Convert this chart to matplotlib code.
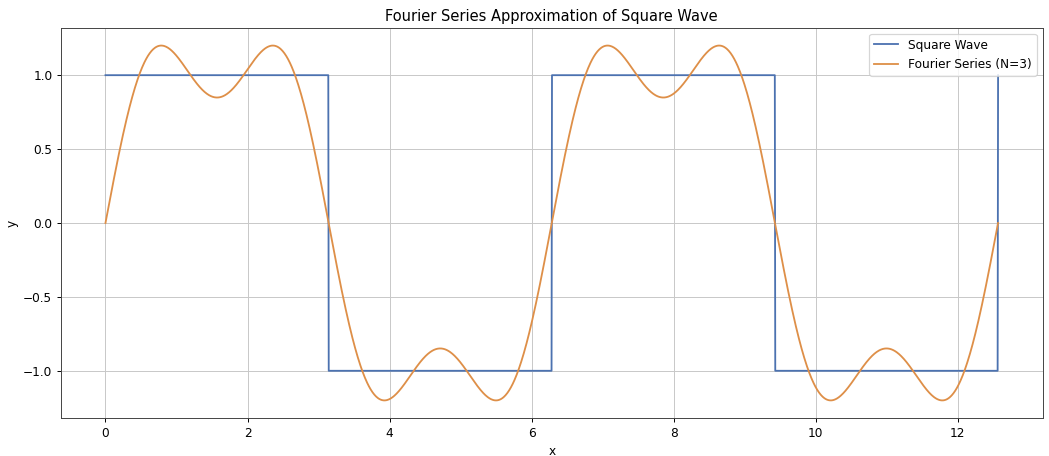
import numpy as np
import matplotlib
matplotlib.use("Agg")
import matplotlib.pyplot as plt

# Data definition
x_start = 0.0
x_end = 4 * np.pi
n_points = 2000
harmonics = [1, 3]          # odd harmonics used for N=3
series_labels = ["Square Wave", "Fourier Series (N=3)"]
title = "Fourier Series Approximation of Square Wave"

x = np.linspace(x_start, x_end, n_points)
square = np.where(np.mod(x, 2 * np.pi) < np.pi, 1.0, -1.0)
fourier = np.zeros_like(x)
for n in harmonics:
    fourier += (4 / np.pi) * np.sin(n * x) / n

dpi = 87.42
fig, ax = plt.subplots(figsize=(1049 / dpi, 456 / dpi), dpi=dpi)
ax.plot(x, square, color="#4c72b0", linewidth=1.5, label=series_labels[0])
ax.plot(x, fourier, color="#de8f48", linewidth=1.5, label=series_labels[1])
ax.set_title(title)
ax.set_xlabel("x")
ax.set_ylabel("y")
ax.grid(True, color="#c8c8c8")
ax.legend(loc="upper right")
for s in ax.spines.values():
    s.set_color("#444444")
fig.subplots_adjust(left=0.058, right=0.994, top=0.939, bottom=0.083)
fig.savefig("out.png", dpi=dpi)
